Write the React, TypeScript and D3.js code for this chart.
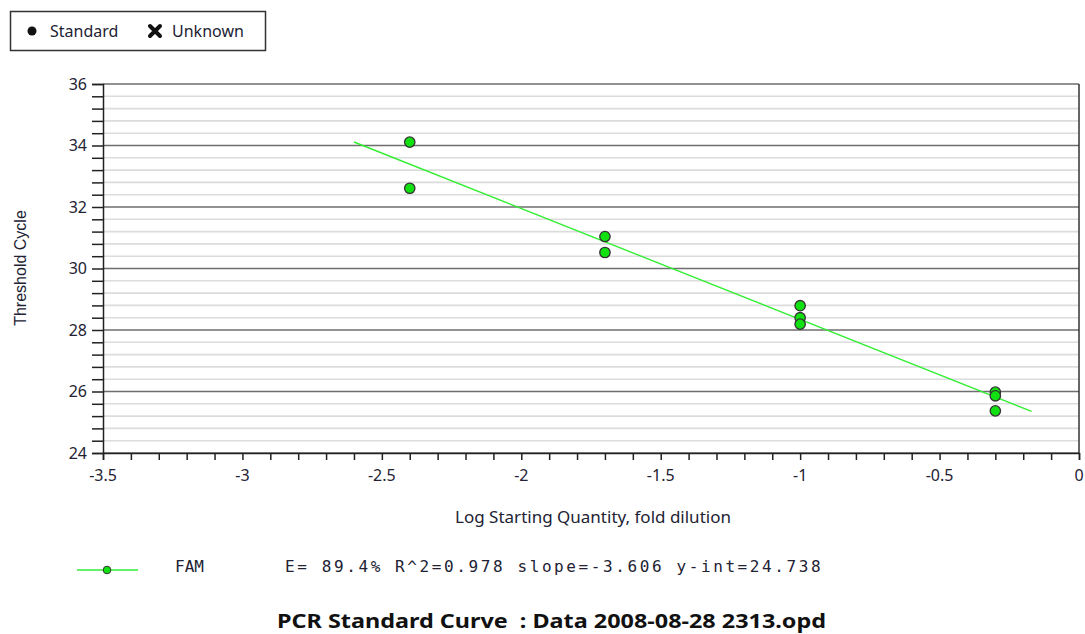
import React, { useEffect, useRef } from "react"
import * as d3 from "d3"

// readings
const logQty = [-2.4, -2.4, -1.7, -1.7, -1.0, -1.0, -1.0, -0.3, -0.3, -0.3]
const ctValues = [34.11, 32.61, 31.04, 30.52, 28.79, 28.40, 28.19, 25.98, 25.86, 25.37]
const fitRange = [-2.6, -0.17] // where the fit line starts and stops
const slope = -3.606
const yInt = 24.738
const xTicks = [-3.5, -3, -2.5, -2, -1.5, -1, -0.5, 0]
const yTicks = [24, 26, 28, 30, 32, 34, 36]
const legendItems = ["Standard", "Unknown"]
const seriesName = "FAM"
const statsText = "E= 89.4% R^2=0.978 slope=-3.606 y-int=24.738"
const title = "PCR Standard Curve  : Data 2008-08-28 2313.opd"

const W = 1085
const H = 634
const m = { left: 103, right: 1079, top: 84, bottom: 453 }
const uiFont = "'Noto Sans', 'DejaVu Sans', sans-serif"
const textCol = "#222233"

export default function App() {
  const ref = useRef<SVGSVGElement>(null)

  useEffect(() => {
    const svg = d3.select(ref.current)
    svg.selectAll("*").remove()

    const x = d3.scaleLinear().domain([-3.5, 0]).range([m.left, m.right])
    const y = d3.scaleLinear().domain([24, 36]).range([m.bottom, m.top])

    // top legend box
    const lg = svg.append("g")
    lg.append("rect").attr("x", 10.5).attr("y", 11.5).attr("width", 255).attr("height", 39)
      .attr("fill", "white").attr("stroke", "#333").attr("stroke-width", 1.5)
    lg.append("circle").attr("cx", 32).attr("cy", 31).attr("r", 4.5).attr("fill", "#111")
    // fat X for "Unknown"
    lg.append("path").attr("d", "M150,26L160,36M160,26L150,36")
      .attr("stroke", "#111").attr("stroke-width", 4).attr("stroke-linecap", "round")
    lg.selectAll("text.lg").data(legendItems).join("text").attr("class", "lg")
      .attr("x", (d, i) => (i === 0 ? 50 : 172)).attr("y", 31).attr("dy", "0.35em")
      .attr("font-family", uiFont).attr("font-size", 16).attr("fill", textCol).text(d => d)

    // grid: minor every 0.4, major every 2
    const minor = d3.range(0, 31).map(i => 24 + i * 0.4)
    svg.append("g").selectAll("line").data(minor.filter((d, i) => i % 5 !== 0)).join("line")
      .attr("x1", m.left).attr("x2", m.right).attr("y1", d => y(d)).attr("y2", d => y(d))
      .attr("stroke", "#dcdcdc").attr("stroke-width", 1.6)
    svg.append("g").selectAll("line").data(yTicks).join("line")
      .attr("x1", m.left).attr("x2", m.right).attr("y1", d => y(d)).attr("y2", d => y(d))
      .attr("stroke", "#6e6e6e").attr("stroke-width", 1.4)

    // right border
    svg.append("line").attr("x1", m.right).attr("x2", m.right).attr("y1", m.top).attr("y2", m.bottom)
      .attr("stroke", "#333").attr("stroke-width", 1.5)

    // y axis
    const yAx = svg.append("g").attr("transform", `translate(${m.left},0)`)
      .call(d3.axisLeft(y).tickValues(minor).tickSize(11).tickFormat(() => ""))
    yAx.select(".domain").attr("stroke", "#222").attr("stroke-width", 1.5)
    yAx.selectAll(".tick line").attr("stroke", "#222").attr("stroke-width", 1.5)
    svg.append("g").selectAll("text").data(yTicks).join("text")
      .attr("x", 87).attr("y", d => y(d)).attr("dy", "0.35em").attr("text-anchor", "end")
      .attr("font-family", uiFont).attr("font-size", 16).attr("fill", textCol).text(d => d)

    // x axis
    const xMinor = d3.range(0, 36).map(i => -3.5 + i * 0.1)
    const xAx = svg.append("g").attr("transform", `translate(0,${m.bottom})`)
      .call(d3.axisBottom(x).tickValues(xMinor).tickSize(7).tickFormat(() => ""))
    xAx.select(".domain").attr("stroke", "#222").attr("stroke-width", 1.5)
    xAx.selectAll(".tick line").attr("stroke", "#222").attr("stroke-width", 1.5)
    svg.append("g").selectAll("text").data(xTicks).join("text")
      .attr("x", d => x(d)).attr("y", 475).attr("dy", "0.35em").attr("text-anchor", "middle")
      .attr("font-family", uiFont).attr("font-size", 16).attr("fill", textCol).text(d => String(d))

    // axis titles
    svg.append("text").attr("transform", "translate(20,268) rotate(-90)").attr("text-anchor", "middle")
      .attr("dy", "0.35em").attr("font-family", "'Liberation Sans', Arial, sans-serif").attr("font-size", 16)
      .attr("fill", textCol).text("Threshold Cycle")
    svg.append("text").attr("x", 593).attr("y", 517).attr("dy", "0.35em").attr("text-anchor", "middle")
      .attr("font-family", uiFont).attr("font-size", 17).attr("fill", textCol)
      .text("Log Starting Quantity, fold dilution")

    // fit line
    const fit = fitRange.map(v => [v, yInt + slope * v] as [number, number])
    svg.append("path").datum(fit)
      .attr("d", d3.line<[number, number]>().x(d => x(d[0])).y(d => y(d[1])))
      .attr("stroke", "#33ee33").attr("stroke-width", 1.4).attr("fill", "none")

    // points
    svg.append("g").selectAll("circle").data(logQty).join("circle")
      .attr("cx", d => x(d)).attr("cy", (d, i) => y(ctValues[i])).attr("r", 5.2)
      .attr("fill", "#11e011").attr("stroke", "#333").attr("stroke-width", 1.3)

    // bottom legend
    svg.append("line").attr("x1", 77).attr("x2", 138).attr("y1", 570).attr("y2", 570)
      .attr("stroke", "#33ee33").attr("stroke-width", 1.5)
    svg.append("circle").attr("cx", 107).attr("cy", 570).attr("r", 3.8)
      .attr("fill", "#11e011").attr("stroke", "#333").attr("stroke-width", 1)
    svg.append("text").attr("x", 175).attr("y", 566).attr("dy", "0.35em")
      .attr("font-family", "'DejaVu Sans Mono', monospace").attr("font-size", 16)
      .attr("fill", textCol).text(seriesName)
    svg.append("text").attr("x", 285).attr("y", 566).attr("dy", "0.35em")
      .attr("font-family", "'DejaVu Sans Mono', monospace").attr("font-size", 16)
      .attr("letter-spacing", 2.6).attr("fill", textCol).text(statsText)

    // title (double space kept)
    svg.append("text").attr("x", 277).attr("y", 621).attr("dy", "0.35em")
      .attr("font-family", uiFont).attr("font-size", 20).attr("font-weight", "bold")
      .attr("textLength", 549).attr("lengthAdjust", "spacingAndGlyphs")
      .style("white-space", "pre").attr("fill", "#111").text(title)
  }, [])

  return (
    <svg ref={ref} width={W} height={H}
      style={{ position: "absolute", left: 0, top: 0, background: "white" }} />
  )
}
